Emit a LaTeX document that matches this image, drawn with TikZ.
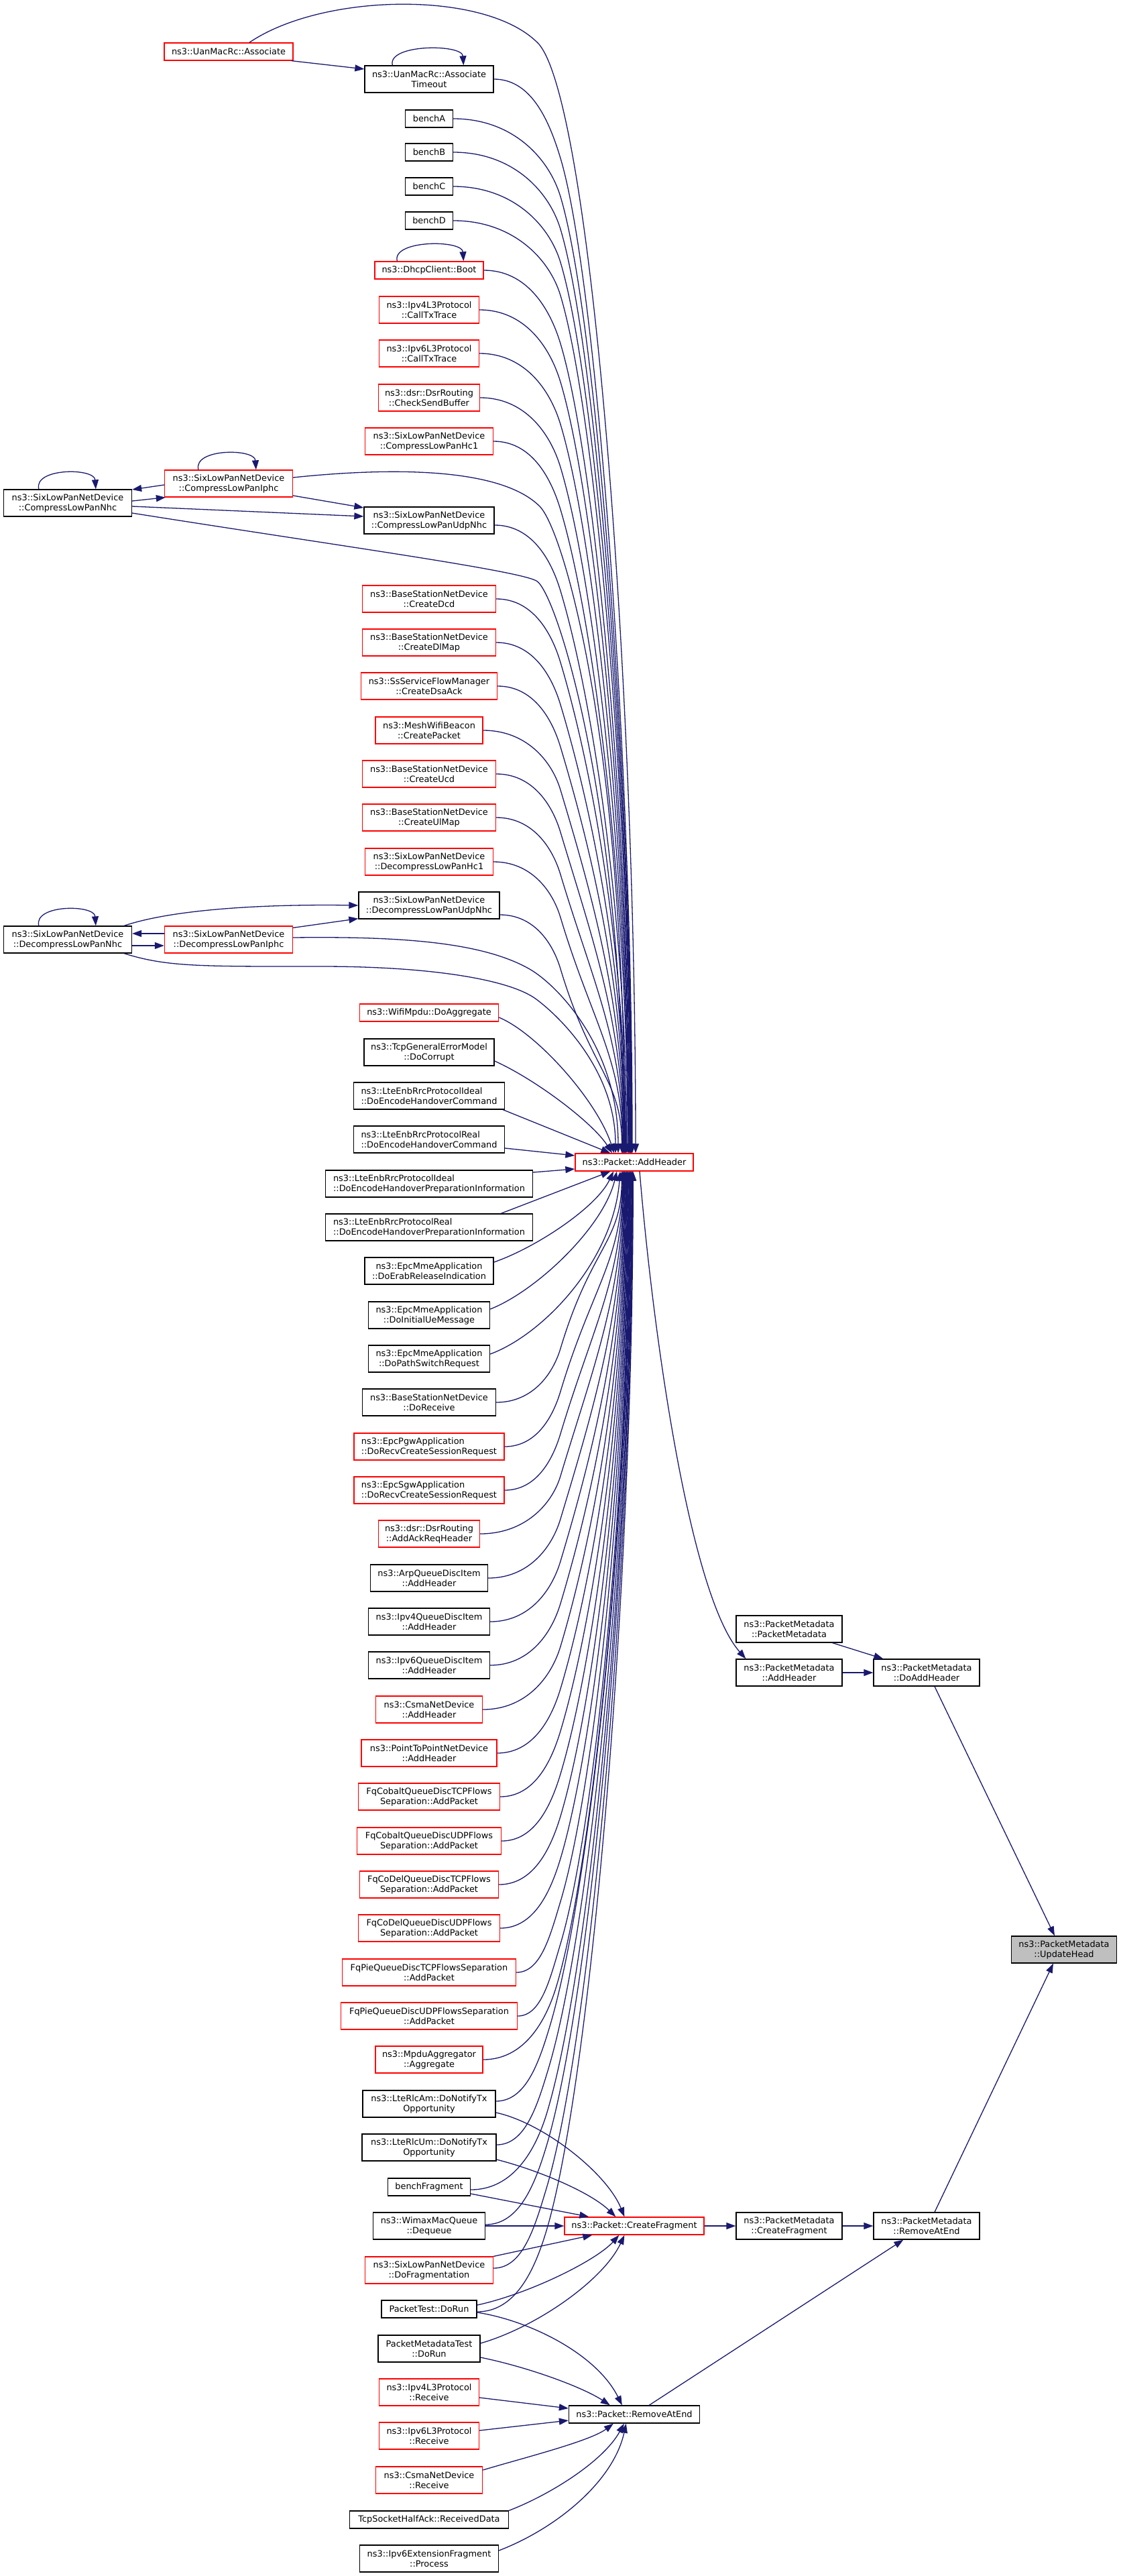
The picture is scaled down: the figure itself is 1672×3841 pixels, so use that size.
\documentclass[tikz,border=0pt]{standalone}
\usepackage{fontspec}
\setmainfont{DejaVu Sans}
\usetikzlibrary{arrows.meta,calc}
\definecolor{mblue}{HTML}{191970}
\definecolor{rootgray}{HTML}{BFBFBF}
\newcommand\fnt{\fontsize{12.9pt}{15pt}\selectfont}
% generic caller -> ns3::Packet::AddHeader edge
% #1 start point, #2 anchor of ah (north/south), #3 sign (1 above, -1 below), #4 bend x
\newcommand\callAH[4]{%
 \path #1 coordinate (cS) (ah.#2) coordinate (cT);
 \pgfpointanchor{cS}{center}\pgfgetlastxy{\qsx}{\qsy}%
 \pgfpointanchor{cT}{center}\pgfgetlastxy{\qtx}{\qty}%
 \pgfmathsetmacro\qxa{\qsx}%
 \pgfmathsetmacro\qya{abs(\qsy)}%
 \pgfmathsetmacro\qyt{abs(\qty)}%
 \pgfmathsetmacro\qs{#3}%
 \pgfmathsetmacro\qdY{abs(\qyt-\qya)}%
 \pgfmathsetmacro\qh{70+0.03*\qdY}%
 \pgfmathsetmacro\qkx{max(#4,\qxa+60)}%
 \pgfmathsetmacro\qky{\qya+(\qs)*\qh}%
 \pgfmathsetmacro\qxt{948-25*(1-min(\qdY,2000)/2000)}%
 \pgfmathsetmacro\qm{abs(\qyt-\qky)}%
 \pgfmathsetmacro\qcax{\qxa+0.55*(\qkx-\qxa)}%
 \pgfmathsetmacro\qcbx{\qkx-0.15*\qh}%
 \pgfmathsetmacro\qcby{\qky-(\qs)*0.5*\qh}%
 \pgfmathsetmacro\qccx{\qkx+0.5*(\qxt-\qkx)}%
 \pgfmathsetmacro\qccy{\qky+(\qs)*(\qxt-\qkx)*0.5/0.3}%
 \pgfmathsetmacro\qcdy{\qyt-(\qs)*0.4*\qm}%
 \draw[conn] (cS) .. controls (\qcax,\qya) and (\qcbx,\qcby) .. (\qkx,\qky) .. controls (\qccx,\qccy) and (\qxt,\qcdy) .. (\qxt,\qyt);
}
\begin{document}
\begin{tikzpicture}[x=1pt,y=-1pt,
  fn/.style={draw=black, line width=1.3pt, fill=white, inner xsep=3pt, inner ysep=2pt, align=center, font=\fnt, minimum height=40pt, text=black},
  one/.style={minimum height=26pt},
  trunc/.style={draw=red},
  rootnode/.style={fill=rootgray},
  lft/.style={align=left},
  conn/.style={draw=mblue, line width=1.3pt, -{Triangle[length=14pt,width=10pt]}}
]
\path[use as bounding box, fill=white] (0,0) rectangle (1672,3841);

% ---------- left columns ----------
\node[fn,minimum width=191pt] (cNhc) at (101,750) {ns3::SixLowPanNetDevice\\::CompressLowPanNhc};
\node[fn,minimum width=191pt] (dNhc) at (101,1401) {ns3::SixLowPanNetDevice\\::DecompressLowPanNhc};
\node[fn,trunc,one,minimum width=192pt] (assoc) at (341,77) {ns3::UanMacRc::Associate};
\node[fn,trunc,minimum width=191pt] (cIphc) at (341,721) {ns3::SixLowPanNetDevice\\::CompressLowPanIphc};
\node[fn,trunc,minimum width=191pt] (dIphc) at (341,1401) {ns3::SixLowPanNetDevice\\::DecompressLowPanIphc};

% ---------- main column ----------
\node[fn,minimum width=192pt] (timeout) at (640,118) {ns3::UanMacRc::Associate\\Timeout};
\node[fn,one,minimum width=71pt] (benchA) at (640,177) {benchA};
\node[fn,one,minimum width=71pt] (benchB) at (640,227) {benchB};
\node[fn,one,minimum width=71pt] (benchC) at (640,278) {benchC};
\node[fn,one,minimum width=71pt] (benchD) at (640,329) {benchD};
\node[fn,trunc,one,minimum width=162pt] (boot) at (640,403) {ns3::DhcpClient::Boot};
\node[fn,trunc,minimum width=149pt] (v4tx) at (640,462) {ns3::Ipv4L3Protocol\\::CallTxTrace};
\node[fn,trunc,minimum width=149pt] (v6tx) at (640,527) {ns3::Ipv6L3Protocol\\::CallTxTrace};
\node[fn,trunc,minimum width=151pt] (csb) at (640,593) {ns3::dsr::DsrRouting\\::CheckSendBuffer};
\node[fn,trunc,minimum width=191pt] (chc1) at (640,658) {ns3::SixLowPanNetDevice\\::CompressLowPanHc1};
\node[fn,minimum width=194pt] (cudp) at (640,776) {ns3::SixLowPanNetDevice\\::CompressLowPanUdpNhc};
\node[fn,trunc,minimum width=199pt] (dcd) at (640,893) {ns3::BaseStationNetDevice\\::CreateDcd};
\node[fn,trunc,minimum width=199pt] (dlmap) at (640,958) {ns3::BaseStationNetDevice\\::CreateDlMap};
\node[fn,trunc,minimum width=203pt] (dsaack) at (640,1023) {ns3::SsServiceFlowManager\\::CreateDsaAck};
\node[fn,trunc,minimum width=160pt] (mesh) at (640,1089) {ns3::MeshWifiBeacon\\::CreatePacket};
\node[fn,trunc,minimum width=199pt] (ucd) at (640,1154) {ns3::BaseStationNetDevice\\::CreateUcd};
\node[fn,trunc,minimum width=199pt] (ulmap) at (640,1219) {ns3::BaseStationNetDevice\\::CreateUlMap};
\node[fn,trunc,minimum width=191pt] (dhc1) at (640,1285) {ns3::SixLowPanNetDevice\\::DecompressLowPanHc1};
\node[fn,minimum width=210pt] (dudp) at (640,1350) {ns3::SixLowPanNetDevice\\::DecompressLowPanUdpNhc};
\node[fn,trunc,one,minimum width=207pt] (doagg) at (640,1510) {ns3::WifiMpdu::DoAggregate};
\node[fn,minimum width=194pt] (corrupt) at (640,1569) {ns3::TcpGeneralErrorModel\\::DoCorrupt};
\node[fn,lft,minimum width=225pt] (ihc) at (640,1634) {ns3::LteEnbRrcProtocolIdeal\\::DoEncodeHandoverCommand};
\node[fn,lft,minimum width=225pt] (rhc) at (640,1699) {ns3::LteEnbRrcProtocolReal\\::DoEncodeHandoverCommand};
\node[fn,lft,minimum width=309pt] (ihp) at (640,1765) {ns3::LteEnbRrcProtocolIdeal\\::DoEncodeHandoverPreparationInformation};
\node[fn,lft,minimum width=309pt] (rhp) at (640,1830) {ns3::LteEnbRrcProtocolReal\\::DoEncodeHandoverPreparationInformation};
\node[fn,minimum width=192pt] (erab) at (640,1895) {ns3::EpcMmeApplication\\::DoErabReleaseIndication};
\node[fn,minimum width=181pt] (initue) at (640,1961) {ns3::EpcMmeApplication\\::DoInitialUeMessage};
\node[fn,minimum width=181pt] (pathsw) at (640,2026) {ns3::EpcMmeApplication\\::DoPathSwitchRequest};
\node[fn,minimum width=199pt] (dorecv) at (640,2091) {ns3::BaseStationNetDevice\\::DoReceive};
\node[fn,trunc,lft,minimum width=224pt] (pgw) at (640,2157) {ns3::EpcPgwApplication\\::DoRecvCreateSessionRequest};
\node[fn,trunc,lft,minimum width=224pt] (sgw) at (640,2222) {ns3::EpcSgwApplication\\::DoRecvCreateSessionRequest};
\node[fn,trunc,minimum width=151pt] (ackreq) at (640,2287) {ns3::dsr::DsrRouting\\::AddAckReqHeader};
\node[fn,minimum width=175pt] (arp) at (640,2353) {ns3::ArpQueueDiscItem\\::AddHeader};
\node[fn,minimum width=181pt] (v4qdi) at (640,2418) {ns3::Ipv4QueueDiscItem\\::AddHeader};
\node[fn,minimum width=181pt] (v6qdi) at (640,2483) {ns3::Ipv6QueueDiscItem\\::AddHeader};
\node[fn,trunc,minimum width=159pt] (csmaah) at (640,2549) {ns3::CsmaNetDevice\\::AddHeader};
\node[fn,trunc,minimum width=202pt] (p2p) at (640,2614) {ns3::PointToPointNetDevice\\::AddHeader};
\node[fn,trunc,minimum width=211pt] (cobt) at (640,2679) {FqCobaltQueueDiscTCPFlows\\Separation::AddPacket};
\node[fn,trunc,minimum width=215pt] (cobu) at (640,2745) {FqCobaltQueueDiscUDPFlows\\Separation::AddPacket};
\node[fn,trunc,minimum width=207pt] (codt) at (640,2810) {FqCoDelQueueDiscTCPFlows\\Separation::AddPacket};
\node[fn,trunc,minimum width=211pt] (codu) at (640,2875) {FqCoDelQueueDiscUDPFlows\\Separation::AddPacket};
\node[fn,trunc,minimum width=259pt] (piet) at (640,2941) {FqPieQueueDiscTCPFlowsSeparation\\::AddPacket};
\node[fn,trunc,minimum width=263pt] (pieu) at (640,3006) {FqPieQueueDiscUDPFlowsSeparation\\::AddPacket};
\node[fn,trunc,minimum width=160pt] (mpdu) at (640,3071) {ns3::MpduAggregator\\::Aggregate};
\node[fn,minimum width=198pt] (rlcam) at (640,3137) {ns3::LteRlcAm::DoNotifyTx\\Opportunity};
\node[fn,minimum width=200pt] (rlcum) at (640,3202) {ns3::LteRlcUm::DoNotifyTx\\Opportunity};
\node[fn,one,minimum width=123pt] (bfrag) at (640,3261) {benchFragment};
\node[fn,minimum width=167pt] (wimax) at (640,3319) {ns3::WimaxMacQueue\\::Dequeue};
\node[fn,trunc,minimum width=191pt] (dofrag) at (640,3385) {ns3::SixLowPanNetDevice\\::DoFragmentation};
\node[fn,one,minimum width=142pt] (ptest) at (640,3443) {PacketTest::DoRun};
\node[fn,minimum width=152pt] (pmtest) at (640,3502) {PacketMetadataTest\\::DoRun};
\node[fn,trunc,minimum width=149pt] (v4rx) at (640,3567) {ns3::Ipv4L3Protocol\\::Receive};
\node[fn,trunc,minimum width=149pt] (v6rx) at (640,3632) {ns3::Ipv6L3Protocol\\::Receive};
\node[fn,trunc,minimum width=159pt] (csmarx) at (640,3698) {ns3::CsmaNetDevice\\::Receive};
\node[fn,one,minimum width=237pt] (tcpha) at (640,3757) {TcpSocketHalfAck::ReceivedData};
\node[fn,minimum width=207pt] (v6ef) at (640,3815) {ns3::Ipv6ExtensionFragment\\::Process};

% ---------- right part ----------
\node[fn,trunc,one,minimum width=176pt] (ah) at (946,1733) {ns3::Packet::AddHeader};
\node[fn,trunc,one,minimum width=208pt] (cf) at (946,3319) {ns3::Packet::CreateFragment};
\node[fn,one,minimum width=195pt] (rae) at (946,3600) {ns3::Packet::RemoveAtEnd};
\node[fn,minimum width=158pt] (pmpm) at (1177,2429) {ns3::PacketMetadata\\::PacketMetadata};
\node[fn,minimum width=158pt] (pmah) at (1177,2494) {ns3::PacketMetadata\\::AddHeader};
\node[fn,minimum width=158pt] (pmcf) at (1177,3319) {ns3::PacketMetadata\\::CreateFragment};
\node[fn,minimum width=158pt] (doah) at (1382,2494) {ns3::PacketMetadata\\::DoAddHeader};
\node[fn,minimum width=158pt] (pmrae) at (1382,3319) {ns3::PacketMetadata\\::RemoveAtEnd};
\node[fn,rootnode,minimum width=157pt] (uh) at (1587,2907) {ns3::PacketMetadata\\::UpdateHead};

% ---------- edges: top ----------
\draw[conn] ($(assoc.south east)+(-3,0)$) -- ($(timeout.west)+(0,-15)$);
\draw[conn] ($(assoc.north)+(31,0)$) .. controls (480,-10) and (720,-15) .. (800,62) .. controls (880,130) and (948,1000) .. ($(ah.north)+(2,0)$);
% self loops
\draw[conn] ($(timeout.north west)+(42,0)$) .. controls +(-8,-32) and +(-2,-32) .. ($(timeout.north west)+(148,0)$);
\draw[conn] ($(boot.north west)+(34,0)$) .. controls +(-8,-32) and +(-2,-32) .. ($(boot.north west)+(133,0)$);
\draw[conn] ($(cIphc.north west)+(51,0)$) .. controls +(-8,-32) and +(-2,-32) .. ($(cIphc.north west)+(137,0)$);
\draw[conn] ($(cNhc.north west)+(53,0)$) .. controls +(-8,-32) and +(-2,-32) .. ($(cNhc.north west)+(138,0)$);
\draw[conn] ($(dNhc.north west)+(53,0)$) .. controls +(-8,-32) and +(-2,-32) .. ($(dNhc.north west)+(138,0)$);

% compress group
\draw[conn] ($(cIphc.west)+(0,2)$) -- ($(cNhc.east)+(0,-20)$);
\draw[conn] ($(cNhc.east)+(0,-3)$) -- ($(cIphc.south west)+(2,0)$);
\draw[conn] ($(cIphc.east)+(0,18)$) -- ($(cudp.west)+(0,-19)$);
\draw[conn] ($(cNhc.east)+(0,5)$) -- ($(cudp.west)+(0,-6)$);
\draw[conn] ($(cIphc.east)+(0,-9)$) .. controls (600,695) and (750,700) .. (805,755) .. controls (840,790) and (932,1100) .. ($(ah.north)+(-14,0)$);
\draw[conn] ($(cNhc.east)+(0,15)$) .. controls (500,813) and (770,850) .. (800,866) .. controls (830,882) and (930,1200) .. ($(ah.north)+(-16,0)$);

% decompress group
\draw[conn] ($(dNhc.north east)+(-12,0)$) .. controls (260,1355) and (400,1348) .. (dudp.west);
\draw[conn] ($(dIphc.north east)+(0,3)$) -- ($(dudp.south west)+(0,-1)$);
\draw[conn] ($(dIphc.west)+(0,-9)$) -- ($(dNhc.east)+(0,-9)$);
\draw[conn] ($(dNhc.east)+(0,9)$) -- ($(dIphc.west)+(0,9)$);
\draw[conn] ($(dIphc.east)+(0,-3)$) .. controls (600,1396) and (720,1405) .. (790,1445) .. controls (830,1468) and (922,1560) .. ($(ah.north)+(-24,0)$);
\draw[conn] ($(dNhc.south east)+(-12,0)$) .. controls (250,1442) and (300,1441) .. (480,1441) .. controls (640,1441) and (760,1460) .. (800,1490) .. controls (840,1520) and (918,1600) .. ($(ah.north)+(-28,0)$);

% generic upper callers
\callAH{(timeout.east)}{north}{1}{836}
\callAH{(benchA.east)}{north}{1}{836}
\callAH{(benchB.east)}{north}{1}{836}
\callAH{(benchC.east)}{north}{1}{836}
\callAH{(benchD.east)}{north}{1}{836}
\callAH{(boot.east)}{north}{1}{836}
\callAH{(v4tx.east)}{north}{1}{836}
\callAH{(v6tx.east)}{north}{1}{836}
\callAH{(csb.east)}{north}{1}{836}
\callAH{(chc1.east)}{north}{1}{836}
\callAH{($(cudp.east)+(0,7)$)}{north}{1}{836}
\callAH{(dcd.east)}{north}{1}{836}
\callAH{(dlmap.east)}{north}{1}{836}
\callAH{(dsaack.east)}{north}{1}{836}
\callAH{(mesh.east)}{north}{1}{836}
\callAH{(ucd.east)}{north}{1}{836}
\callAH{(ulmap.east)}{north}{1}{836}
\callAH{(dhc1.east)}{north}{1}{836}
\callAH{($(dudp.east)+(0,14)$)}{north}{1}{836}

% near callers
\draw[conn] ($(doagg.east)+(0,7)$) .. controls (800,1540) and (890,1640) .. ($(ah.north)+(-30,0)$);
\draw[conn] ($(corrupt.east)+(0,13)$) .. controls (800,1610) and (885,1675) .. ($(ah.north)+(-33,0)$);
\draw[conn] ($(ihc.south east)+(-3,0)$) -- ($(ah.north west)+(53,0)$);
\draw[conn] ($(rhc.east)+(0,13)$) -- ($(ah.west)+(0,-10)$);
\draw[conn] ($(ihp.east)+(0,-17)$) -- ($(ah.west)+(0,10)$);
\draw[conn] ($(rhp.north east)+(-48,0)$) -- ($(ah.south west)+(53,0)$);
\draw[conn] ($(erab.east)+(0,-13)$) .. controls (800,1860) and (890,1800) .. ($(ah.south)+(-31,0)$);
\draw[conn] ($(initue.east)+(0,-9)$) .. controls (800,1925) and (900,1830) .. ($(ah.south)+(-26,0)$);
\draw[conn] ($(pathsw.east)+(0,-7)$) .. controls (810,1990) and (915,1880) .. ($(ah.south)+(-21,0)$);

% generic lower callers
\callAH{(dorecv.east)}{south}{-1}{836}
\callAH{(pgw.east)}{south}{-1}{836}
\callAH{(sgw.east)}{south}{-1}{836}
\callAH{(ackreq.east)}{south}{-1}{836}
\callAH{(arp.east)}{south}{-1}{836}
\callAH{(v4qdi.east)}{south}{-1}{836}
\callAH{(v6qdi.east)}{south}{-1}{836}
\callAH{(csmaah.east)}{south}{-1}{836}
\callAH{(p2p.east)}{south}{-1}{836}
\callAH{(cobt.east)}{south}{-1}{836}
\callAH{(cobu.east)}{south}{-1}{836}
\callAH{(codt.east)}{south}{-1}{836}
\callAH{(codu.east)}{south}{-1}{836}
\callAH{(piet.east)}{south}{-1}{836}
\callAH{(pieu.east)}{south}{-1}{836}
\callAH{(mpdu.east)}{south}{-1}{830}
\callAH{($(rlcam.east)+(0,-4)$)}{south}{-1}{820}
\callAH{($(rlcum.east)+(0,-4)$)}{south}{-1}{818}
\callAH{($(bfrag.east)+(0,4)$)}{south}{-1}{816}
\callAH{($(wimax.east)+(0,-2)$)}{south}{-1}{815}
\callAH{($(dofrag.east)+(0,-3)$)}{south}{-1}{815}
\callAH{($(ptest.east)+(0,4)$)}{south}{-1}{815}

% CreateFragment callers
\draw[conn] ($(rlcam.east)+(0,13)$) .. controls (810,3165) and (905,3240) .. ($(cf.north west)+(90,0)$);
\draw[conn] ($(rlcum.east)+(0,18)$) .. controls (800,3235) and (880,3268) .. ($(cf.north west)+(77,0)$);
\draw[conn] ($(bfrag.east)+(0,10)$) -- ($(cf.north west)+(37,0)$);
\draw[conn] (wimax.east) -- (cf.west);
\draw[conn] (dofrag.north east) -- ($(cf.south west)+(42,0)$);
\draw[conn] ($(ptest.east)+(0,-6)$) .. controls (790,3420) and (890,3370) .. ($(cf.south west)+(82,0)$);
\draw[conn] ($(pmtest.east)+(0,-8)$) .. controls (800,3470) and (900,3400) .. ($(cf.south west)+(90,0)$);

% RemoveAtEnd callers
\draw[conn] ($(ptest.east)+(0,5)$) .. controls (790,3460) and (890,3510) .. ($(rae.north west)+(80,0)$);
\draw[conn] ($(pmtest.east)+(0,13)$) .. controls (790,3530) and (870,3560) .. ($(rae.north west)+(62,0)$);
\draw[conn] ($(v4rx.east)+(0,8)$) -- ($(rae.west)+(0,-9)$);
\draw[conn] ($(v6rx.east)+(0,-8)$) -- ($(rae.west)+(0,9)$);
\draw[conn] ($(csmarx.east)+(0,-15)$) .. controls (780,3665) and (880,3640) .. ($(rae.south west)+(67,0)$);
\draw[conn] (tcpha.north east) .. controls (820,3720) and (900,3670) .. ($(rae.south west)+(83,0)$);
\draw[conn] ($(v6ef.east)+(0,-12)$) .. controls (830,3770) and (915,3700) .. ($(rae.south west)+(86,0)$);

% right part
\draw[conn] ($(ah.south)+(8,0)$) .. controls (975,2000) and (1030,2380) .. ($(pmah.north west)+(15,0)$);
\draw[conn] ($(pmpm.south east)+(-15,0)$) -- ($(doah.north west)+(15,0)$);
\draw[conn] (pmah.east) -- (doah.west);
\draw[conn] ($(doah.south)+(12,0)$) -- ($(uh.north)+(-14,0)$);
\draw[conn] (cf.east) -- (pmcf.west);
\draw[conn] (pmcf.east) -- (pmrae.west);
\draw[conn] ($(pmrae.north)+(12,0)$) -- ($(uh.south)+(-16,0)$);
\draw[conn] ($(rae.north east)+(-76,0)$) -- ($(pmrae.south west)+(45,0)$);
\end{tikzpicture}
\end{document}
